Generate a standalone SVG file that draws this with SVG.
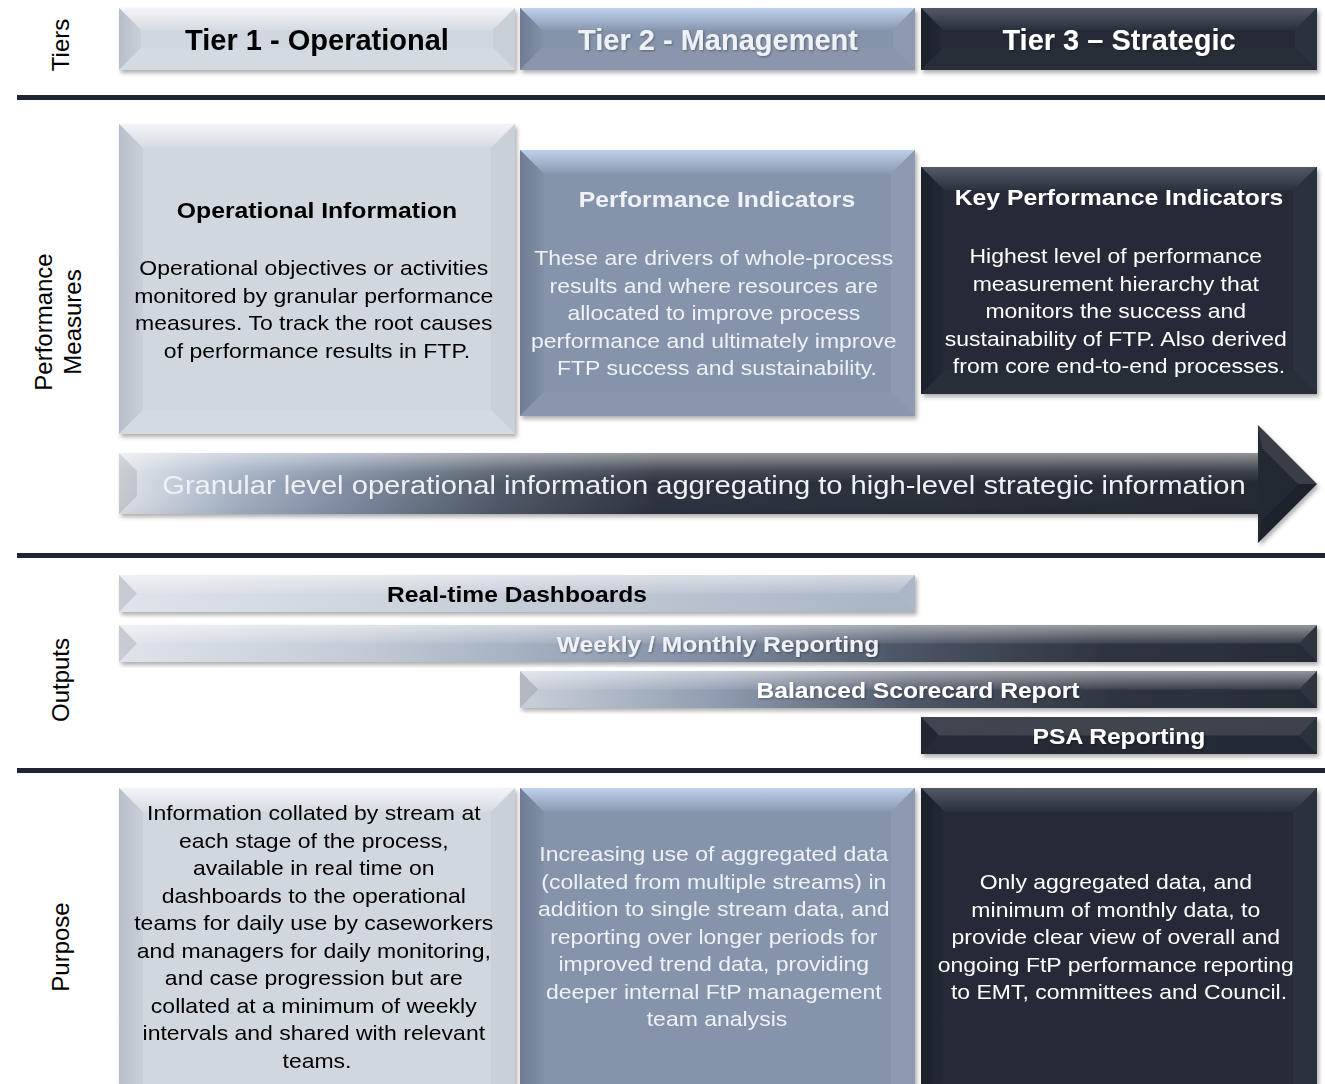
<svg xmlns="http://www.w3.org/2000/svg" width="1325" height="1084" viewBox="0 0 1325 1084">
<style>
text{font-family:"Liberation Sans",Arial,sans-serif}
.hdr{font-size:29px;font-weight:bold;text-anchor:middle}
.ttl{font-size:22.5px;font-weight:bold;text-anchor:middle}
.body{font-size:20px;text-anchor:middle}
.bar{font-size:22px;font-weight:bold;text-anchor:middle}
.side{font-size:24px;text-anchor:middle;fill:#000}
.dk{fill:#000}
.lt{fill:#eef1f5}
.wt{fill:#ffffff}
.f1{fill:#d1d7df}.tp1{fill:url(#top1)}.l1{fill:url(#left1)}.r1{fill:#cad0d8}.b1{fill:#d4dae1}
.f2{fill:#8694ab}.tp2{fill:url(#top2)}.l2{fill:url(#left2)}.r2{fill:#8d9ab0}.b2{fill:#8996ac}
.f3{fill:#262c37}.tp3{fill:url(#top3)}.l3{fill:url(#left3)}.r3{fill:#2c323d}.b3{fill:#282e39}
.ovt{fill:url(#sheen)}
.ovl{fill:#000;fill-opacity:.1}
.ovr{fill:#fff;fill-opacity:.04}
.sep{fill:#1f2532}
.node{filter:url(#sh)}
</style>
<defs>
<filter id="sh" x="-5%" y="-10%" width="110%" height="125%">
<feDropShadow dx="2" dy="3" stdDeviation="2" flood-color="#000" flood-opacity="0.32"/>
</filter>
<filter id="ts" x="-5%" y="-20%" width="110%" height="140%">
<feDropShadow dx="1" dy="1" stdDeviation="0.8" flood-color="#000" flood-opacity="0.35"/>
</filter>
<linearGradient id="top1" x1="0" y1="0" x2="0" y2="1"><stop offset="0" stop-color="#f3f5f8"/><stop offset="1" stop-color="#d6dbe2"/></linearGradient>
<linearGradient id="top2" x1="0" y1="0" x2="0" y2="1"><stop offset="0" stop-color="#bdd1ec"/><stop offset="1" stop-color="#8a98af"/></linearGradient>
<linearGradient id="top3" x1="0" y1="0" x2="0" y2="1"><stop offset="0" stop-color="#525a67"/><stop offset="1" stop-color="#2a303b"/></linearGradient>
<linearGradient id="left1" x1="0" y1="0" x2="1" y2="0"><stop offset="0" stop-color="#b6bec9"/><stop offset="1" stop-color="#c9d0d9"/></linearGradient>
<linearGradient id="left2" x1="0" y1="0" x2="1" y2="0"><stop offset="0" stop-color="#6f7c92"/><stop offset="1" stop-color="#8190a6"/></linearGradient>
<linearGradient id="left3" x1="0" y1="0" x2="1" y2="0"><stop offset="0" stop-color="#1b2029"/><stop offset="1" stop-color="#242a34"/></linearGradient>
<linearGradient id="sheen" x1="0" y1="0" x2="0" y2="1"><stop offset="0" stop-color="#fff" stop-opacity="0.5"/><stop offset="1" stop-color="#fff" stop-opacity="0.08"/></linearGradient>
<linearGradient id="gRT" gradientUnits="userSpaceOnUse" x1="119" y1="0" x2="915" y2="0"><stop offset="0" stop-color="#dfe4ea"/><stop offset="1" stop-color="#a9b4c4"/></linearGradient>
<linearGradient id="gWK" gradientUnits="userSpaceOnUse" x1="119" y1="0" x2="1317" y2="0"><stop offset="0" stop-color="#dfe4ea"/><stop offset="0.2" stop-color="#c3cbd6"/><stop offset="0.38" stop-color="#9ba7ba"/><stop offset="0.5" stop-color="#7e8ba1"/><stop offset="0.65" stop-color="#4d5666"/><stop offset="0.82" stop-color="#2f3541"/><stop offset="1" stop-color="#262c37"/></linearGradient>
<linearGradient id="gBS" gradientUnits="userSpaceOnUse" x1="520" y1="0" x2="1317" y2="0"><stop offset="0" stop-color="#c9d0d9"/><stop offset="0.25" stop-color="#8f9cb0"/><stop offset="0.5" stop-color="#4c5565"/><stop offset="0.75" stop-color="#2e343f"/><stop offset="1" stop-color="#262c37"/></linearGradient>
<linearGradient id="gPSA" x1="0" y1="0" x2="1" y2="0"><stop offset="0" stop-color="#262c37"/><stop offset="1" stop-color="#242a34"/></linearGradient>
<linearGradient id="gAR" gradientUnits="userSpaceOnUse" x1="119" y1="0" x2="1317" y2="0"><stop offset="0" stop-color="#dfe4ea"/><stop offset="0.1" stop-color="#a3b0c3"/><stop offset="0.2" stop-color="#7b889d"/><stop offset="0.32" stop-color="#4e5766"/><stop offset="0.45" stop-color="#2c323d"/><stop offset="1" stop-color="#232831"/></linearGradient>
<linearGradient id="arSheen" gradientUnits="userSpaceOnUse" x1="0" y1="453" x2="0" y2="514"><stop offset="0" stop-color="#fff" stop-opacity="0.5"/><stop offset="0.3" stop-color="#fff" stop-opacity="0.12"/><stop offset="0.5" stop-color="#fff" stop-opacity="0"/><stop offset="1" stop-color="#000" stop-opacity="0.05"/></linearGradient>
</defs>

<rect width="1325" height="1084" fill="#fff"/>

<!-- separators -->
<g id="separators">
<rect class="sep" x="17" y="95" width="1308" height="5"/>
<rect class="sep" x="17" y="553" width="1308" height="5"/>
<rect class="sep" x="17" y="768" width="1308" height="5"/>
</g>

<!-- side labels -->
<g id="row-labels">
<text class="side" transform="translate(68.5,45) rotate(-90)">Tiers</text>
<text class="side" transform="translate(51.5,322) rotate(-90)"><tspan x="0" y="0">Performance</tspan><tspan x="0" y="29">Measures</tspan></text>
<text class="side" transform="translate(68.5,680) rotate(-90)">Outputs</text>
<text class="side" transform="translate(68.5,947) rotate(-90)">Purpose</text>
</g>

<!-- Tier headers -->
<g id="tier1-header" class="node">
<rect class="f1" x="119" y="8" width="396" height="62"/>
<polygon class="tp1" points="119,8 515,8 493,30 141,30"/>
<polygon class="l1" points="119,8 141,30 141,48 119,70"/>
<polygon class="r1" points="515,8 515,70 493,48 493,30"/>
<polygon class="b1" points="119,70 141,48 493,48 515,70"/>
<text class="hdr dk" x="317" y="50">Tier 1 - Operational</text>
</g>
<g id="tier2-header" class="node">
<rect class="f2" x="520" y="8" width="395" height="62"/>
<polygon class="tp2" points="520,8 915,8 893,30 542,30"/>
<polygon class="l2" points="520,8 542,30 542,48 520,70"/>
<polygon class="r2" points="915,8 915,70 893,48 893,30"/>
<polygon class="b2" points="520,70 542,48 893,48 915,70"/>
<text class="hdr lt" x="718" y="50" filter="url(#ts)">Tier 2 - Management</text>
</g>
<g id="tier3-header" class="node">
<rect class="f3" x="921" y="8" width="396" height="62"/>
<polygon class="tp3" points="921,8 1317,8 1295,30 943,30"/>
<polygon class="l3" points="921,8 943,30 943,48 921,70"/>
<polygon class="r3" points="1317,8 1317,70 1295,48 1295,30"/>
<polygon class="b3" points="921,70 943,48 1295,48 1317,70"/>
<text class="hdr wt" x="1119" y="50" filter="url(#ts)">Tier 3 – Strategic</text>
</g>

<!-- Performance measures -->
<g id="pm-operational-information" class="node">
<rect class="f1" x="119" y="124" width="396" height="310"/>
<polygon class="tp1" points="119,124 515,124 491,148 143,148"/>
<polygon class="l1" points="119,124 143,148 143,410 119,434"/>
<polygon class="r1" points="515,124 515,434 491,410 491,148"/>
<polygon class="b1" points="119,434 143,410 491,410 515,434"/>
<text class="ttl dk" x="317" y="218" transform="matrix(1.1 0 0 1 -31.7 0)">Operational Information</text>
<text class="body dk" transform="matrix(1.15 0 0 1 -47.55 0)">
<tspan x="317" y="275">Operational objectives or activities</tspan>
<tspan x="317" y="303">monitored by granular performance</tspan>
<tspan x="317" y="330">measures. To track the root causes</tspan>
<tspan x="317" y="358">of performance results in FTP.</tspan>
</text>
</g>
<g id="pm-performance-indicators" class="node">
<rect class="f2" x="520" y="150" width="395" height="266"/>
<polygon class="tp2" points="520,150 915,150 891,174 544,174"/>
<polygon class="l2" points="520,150 544,174 544,392 520,416"/>
<polygon class="r2" points="915,150 915,416 891,392 891,174"/>
<polygon class="b2" points="520,416 544,392 891,392 915,416"/>
<text class="ttl lt" x="717" y="207" transform="matrix(1.1 0 0 1 -71.7 0)">Performance Indicators</text>
<text class="body lt" transform="matrix(1.15 0 0 1 -107.55 0)">
<tspan x="717" y="265">These are drivers of whole-process</tspan>
<tspan x="717" y="293">results and where resources are</tspan>
<tspan x="717" y="320">allocated to improve process</tspan>
<tspan x="717" y="348">performance and ultimately improve</tspan>
<tspan x="717" y="375">FTP success and sustainability.</tspan>
</text>
</g>
<g id="pm-key-performance-indicators" class="node">
<rect class="f3" x="921" y="167" width="396" height="227"/>
<polygon class="tp3" points="921,167 1317,167 1293,191 945,191"/>
<polygon class="l3" points="921,167 945,191 945,370 921,394"/>
<polygon class="r3" points="1317,167 1317,394 1293,370 1293,191"/>
<polygon class="b3" points="921,394 945,370 1293,370 1317,394"/>
<text class="ttl wt" x="1119" y="205" transform="matrix(1.1 0 0 1 -111.9 0)">Key Performance Indicators</text>
<text class="body wt" transform="matrix(1.15 0 0 1 -167.85 0)">
<tspan x="1119" y="263">Highest level of performance</tspan>
<tspan x="1119" y="291">measurement hierarchy that</tspan>
<tspan x="1119" y="318">monitors the success and</tspan>
<tspan x="1119" y="346">sustainability of FTP. Also derived</tspan>
<tspan x="1119" y="373">from core end-to-end processes.</tspan>
</text>
</g>

<!-- Aggregation arrow -->
<g id="connectors">
<g id="aggregation-arrow" class="node">
<path d="M119,453 H1258 V425 L1317,484 L1258,543 V514 H119 Z" fill="url(#gAR)"/>
<rect x="119" y="453" width="1139" height="61" fill="url(#arSheen)"/>
<polygon points="119,453 137,471 137,496 119,514" fill="#000" fill-opacity="0.1"/>
<polygon points="1258,425 1317,484 1298,484 1262,448" fill="#fff" fill-opacity="0.1"/>
<polygon points="1258,543 1317,484 1298,484 1262,520" fill="#000" fill-opacity="0.12"/>
<text x="704" y="494" font-size="26.5" text-anchor="middle" class="lt" transform="matrix(1.1 0 0 1 -70.4 0)">Granular level operational information aggregating to high-level strategic information</text>
</g>
</g>

<!-- Outputs -->
<g id="out-realtime-dashboards" class="node">
<rect x="119" y="575" width="796" height="37" fill="url(#gRT)"/>
<polygon class="ovt" points="119,575 915,575 897,593.5 137,593.5"/>
<polygon class="ovl" points="119,575 137,593.5 119,612"/>
<polygon class="ovr" points="915,575 897,593.5 915,612"/>
<text class="bar dk" x="517" y="602" transform="matrix(1.12 0 0 1 -62.04 0)">Real-time Dashboards</text>
</g>
<g id="out-weekly-monthly-reporting" class="node">
<rect x="119" y="625" width="1198" height="37" fill="url(#gWK)"/>
<polygon class="ovt" points="119,625 1317,625 1299,643.5 137,643.5"/>
<polygon class="ovl" points="119,625 137,643.5 119,662"/>
<polygon class="ovr" points="1317,625 1299,643.5 1317,662"/>
<text class="bar lt" x="718" y="652" filter="url(#ts)" transform="matrix(1.12 0 0 1 -86.16 0)">Weekly / Monthly Reporting</text>
</g>
<g id="out-balanced-scorecard" class="node">
<rect x="520" y="671" width="797" height="37" fill="url(#gBS)"/>
<polygon class="ovt" points="520,671 1317,671 1299,689.5 538,689.5"/>
<polygon class="ovl" points="520,671 538,689.5 520,708"/>
<polygon class="ovr" points="1317,671 1299,689.5 1317,708"/>
<text class="bar wt" x="918" y="698" filter="url(#ts)" transform="matrix(1.12 0 0 1 -110.16 0)">Balanced Scorecard Report</text>
</g>
<g id="out-psa-reporting" class="node">
<rect x="921" y="717" width="396" height="37" fill="url(#gPSA)"/>
<polygon points="921,717 1317,717 1299,735.5 939,735.5" fill="#fff" fill-opacity="0.12"/>
<polygon class="ovl" points="921,717 939,735.5 921,754"/>
<polygon class="ovr" points="1317,717 1299,735.5 1317,754"/>
<text class="bar wt" x="1119" y="744" filter="url(#ts)" transform="matrix(1.12 0 0 1 -134.28 0)">PSA Reporting</text>
</g>

<!-- Purpose -->
<g id="purpose-tier1" class="node">
<rect class="f1" x="119" y="788" width="396" height="330"/>
<polygon class="tp1" points="119,788 515,788 491,812 143,812"/>
<polygon class="l1" points="119,788 143,812 143,1094 119,1118"/>
<polygon class="r1" points="515,788 515,1118 491,1094 491,812"/>
<text class="body dk" transform="matrix(1.15 0 0 1 -47.55 0)">
<tspan x="317" y="820">Information collated by stream at</tspan>
<tspan x="317" y="848">each stage of the process,</tspan>
<tspan x="317" y="875">available in real time on</tspan>
<tspan x="317" y="903">dashboards to the operational</tspan>
<tspan x="317" y="930">teams for daily use by caseworkers</tspan>
<tspan x="317" y="958">and managers for daily monitoring,</tspan>
<tspan x="317" y="985">and case progression but are</tspan>
<tspan x="317" y="1013">collated at a minimum of weekly</tspan>
<tspan x="317" y="1040">intervals and shared with relevant</tspan>
<tspan x="317" y="1068">teams.</tspan>
</text>
</g>
<g id="purpose-tier2" class="node">
<rect class="f2" x="520" y="788" width="395" height="330"/>
<polygon class="tp2" points="520,788 915,788 891,812 544,812"/>
<polygon class="l2" points="520,788 544,812 544,1094 520,1118"/>
<polygon class="r2" points="915,788 915,1118 891,1094 891,812"/>
<text class="body lt" transform="matrix(1.15 0 0 1 -107.55 0)">
<tspan x="717" y="861">Increasing use of aggregated data</tspan>
<tspan x="717" y="889">(collated from multiple streams) in</tspan>
<tspan x="717" y="916">addition to single stream data, and</tspan>
<tspan x="717" y="944">reporting over longer periods for</tspan>
<tspan x="717" y="971">improved trend data, providing</tspan>
<tspan x="717" y="999">deeper internal FtP management</tspan>
<tspan x="717" y="1026">team analysis</tspan>
</text>
</g>
<g id="purpose-tier3" class="node">
<rect class="f3" x="921" y="788" width="396" height="330"/>
<polygon class="tp3" points="921,788 1317,788 1293,812 945,812"/>
<polygon class="l3" points="921,788 945,812 945,1094 921,1118"/>
<polygon class="r3" points="1317,788 1317,1118 1293,1094 1293,812"/>
<text class="body wt" transform="matrix(1.15 0 0 1 -167.85 0)">
<tspan x="1119" y="889">Only aggregated data, and</tspan>
<tspan x="1119" y="917">minimum of monthly data, to</tspan>
<tspan x="1119" y="944">provide clear view of overall and</tspan>
<tspan x="1119" y="972">ongoing FtP performance reporting</tspan>
<tspan x="1119" y="999">to EMT, committees and Council.</tspan>
</text>
</g>
</svg>
